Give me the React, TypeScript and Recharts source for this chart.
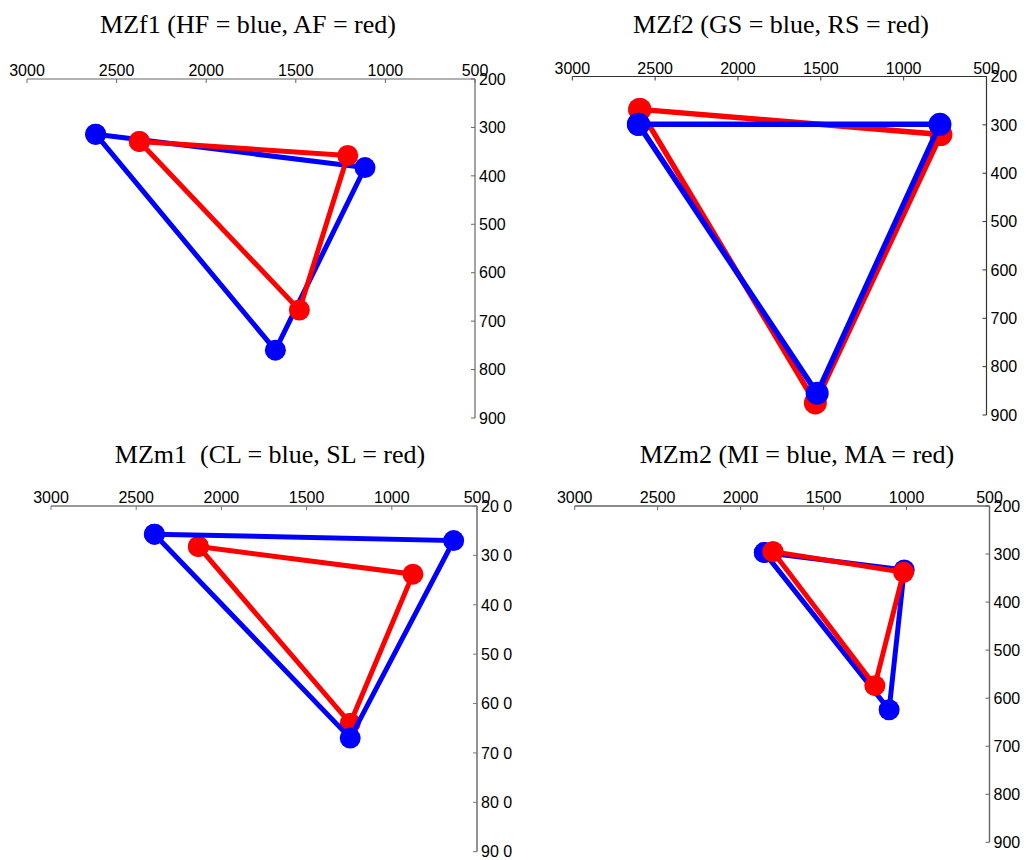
import React from 'react';
import { ScatterChart, Scatter, XAxis, YAxis } from 'recharts';

// Vowel order of each triangle (closed back to the first point)
const vowels = ['i', 'u', 'a'];
const f2Ticks = [3000, 2500, 2000, 1500, 1000, 500];
const f1Ticks = [200, 300, 400, 500, 600, 700, 800, 900];

const titles = [
  'MZf1 (HF = blue, AF = red)',
  'MZf2 (GS = blue, RS = red)',
  'MZm1  (CL = blue, SL = red)',
  'MZm2 (MI = blue, MA = red)',
];

// Panel 1: MZf1
const mzf1BlueF2 = [2617, 1114, 1614];
const mzf1BlueF1 = [314, 383, 760];
const mzf1RedF2 = [2373, 1210, 1480];
const mzf1RedF1 = [329, 358, 677];

// Panel 2: MZf2
const mzf2BlueF2 = [2601, 781, 1522];
const mzf2BlueF1 = [299, 299, 855];
const mzf2RedF2 = [2593, 775, 1533];
const mzf2RedF1 = [268, 320, 875];

// Panel 3: MZm1
const mzm1BlueF2 = [2393, 637, 1244];
const mzm1BlueF1 = [257, 270, 670];
const mzm1RedF2 = [2135, 876, 1244];
const mzm1RedF1 = [282, 338, 640];

// Panel 4: MZm2
const mzm2BlueF2 = [1857, 1014, 1105];
const mzm2BlueF1 = [297, 333, 624];
const mzm2RedF2 = [1805, 1018, 1191];
const mzm2RedF1 = [295, 338, 574];

const BLUE = '#0000ff';
const RED = '#ff0000';

type Pt = { vowel: string; f2: number; f1: number };
const closed = (f2: number[], f1: number[]): Pt[] => {
  const pts = vowels.map((v, i) => ({ vowel: v, f2: f2[i], f1: f1[i] }));
  return [...pts, pts[0]];
};

type Series = { data: Pt[]; color: string };

type Panel = {
  title: string;
  left: number;
  top: number;
  marginLeft: number;
  marginBottom: number;
  xAxisHeight: number;
  yAxisWidth: number;
  axisColor: string;
  axisWidth: number;
  yFormat: (v: number) => string;
  series: Series[]; // in drawing order
  r: number;
  lw: number;
  titleX: number;
};

const plain = (v: number) => String(v);
const spaced = (v: number) => {
  const s = String(v);
  return s.slice(0, 2) + ' ' + s.slice(2);
};

const panels: Panel[] = [
  {
    title: titles[0], left: 0, top: 0, marginLeft: 27, marginBottom: 12,
    xAxisHeight: 79, yAxisWidth: 38, axisColor: '#666', axisWidth: 1.2, yFormat: plain,
    series: [
      { data: closed(mzf1BlueF2, mzf1BlueF1), color: BLUE },
      { data: closed(mzf1RedF2, mzf1RedF1), color: RED },
    ],
    r: 10.5, lw: 5, titleX: 248,
  },
  {
    title: titles[1], left: 513, top: 0, marginLeft: 59.3, marginBottom: 15,
    xAxisHeight: 76.5, yAxisWidth: 39.5, axisColor: '#333', axisWidth: 1.2, yFormat: plain,
    series: [
      { data: closed(mzf2RedF2, mzf2RedF1), color: RED },
      { data: closed(mzf2BlueF2, mzf2BlueF1), color: BLUE },
    ],
    r: 11.5, lw: 5.5, titleX: 268,
  },
  {
    title: titles[2], left: 0, top: 430, marginLeft: 51, marginBottom: 8.3,
    xAxisHeight: 76, yAxisWidth: 36, axisColor: '#777', axisWidth: 1.6, yFormat: spaced,
    series: [
      { data: closed(mzm1RedF2, mzm1RedF1), color: RED },
      { data: closed(mzm1BlueF2, mzm1BlueF1), color: BLUE },
    ],
    r: 10.5, lw: 5, titleX: 270,
  },
  {
    title: titles[3], left: 513, top: 430, marginLeft: 61.7, marginBottom: 17.7,
    xAxisHeight: 76, yAxisWidth: 36.5, axisColor: '#666', axisWidth: 1.4, yFormat: plain,
    series: [
      { data: closed(mzm2BlueF2, mzm2BlueF1), color: BLUE },
      { data: closed(mzm2RedF2, mzm2RedF1), color: RED },
    ],
    r: 10.5, lw: 5, titleX: 284,
  },
];

const TICK_FONT = '"Liberation Sans", Arial, Helvetica, sans-serif';

const makeXTick = (color: string) => (props: any) => {
  const { x, y, payload } = props;
  return (
    <g>
      <line x1={x} y1={y} x2={x} y2={y + 4} stroke={color} strokeWidth={1} />
      <text x={x} y={y - 3} textAnchor="middle" fontFamily={TICK_FONT} fontSize={16} fill="#000">
        {payload.value}
      </text>
    </g>
  );
};

const makeYTick = (color: string, fmt: (v: number) => string) => (props: any) => {
  const { x, y, payload } = props;
  return (
    <g>
      <line x1={x - 4} y1={y} x2={x} y2={y} stroke={color} strokeWidth={1} />
      <text x={x + 4} y={y} dy="0.36em" textAnchor="start" fontFamily={TICK_FONT} fontSize={16} fill="#000" xmlSpace="preserve">
        {fmt(payload.value)}
      </text>
    </g>
  );
};

const makeDot = (color: string, r: number) => (props: any) => {
  const { cx, cy } = props;
  if (cx == null || cy == null) return <g />;
  return <circle cx={cx} cy={cy} r={r} fill={color} stroke="none" />;
};

function PanelChart({ p }: { p: Panel }) {
  return (
    <div style={{ position: 'absolute', left: p.left, top: p.top, width: 513, height: 430 }}>
      <svg width={513} height={430} style={{ position: 'absolute', left: 0, top: 0 }}>
        <text
          x={p.titleX}
          y={33}
          textAnchor="middle"
          fontFamily='"Liberation Serif", "Times New Roman", serif'
          fontSize={26}
          fill="#000"
          xmlSpace="preserve"
        >
          {p.title}
        </text>
      </svg>
      <div style={{ position: 'absolute', left: 0, top: 0 }}>
        <ScatterChart
          width={513}
          height={430}
          margin={{ top: 0, right: 0, bottom: p.marginBottom, left: p.marginLeft }}
        >
          <XAxis
            type="number"
            dataKey="f2"
            orientation="top"
            domain={[500, 3000]}
            reversed
            ticks={f2Ticks}
            interval={0}
            height={p.xAxisHeight}
            tickSize={0}
            tickMargin={0}
            tickLine={false}
            axisLine={{ stroke: p.axisColor, strokeWidth: p.axisWidth }}
            tick={makeXTick(p.axisColor)}
            allowDataOverflow
          />
          <YAxis
            type="number"
            dataKey="f1"
            orientation="right"
            domain={[200, 900]}
            reversed
            ticks={f1Ticks}
            interval={0}
            width={p.yAxisWidth}
            tickSize={0}
            tickMargin={0}
            tickLine={false}
            axisLine={{ stroke: p.axisColor, strokeWidth: p.axisWidth }}
            tick={makeYTick(p.axisColor, p.yFormat)}
            allowDataOverflow
          />
          {p.series.map((s, i) => (
            <Scatter
              key={i}
              data={s.data}
              fill={s.color}
              line={{ stroke: s.color, strokeWidth: p.lw }}
              lineType="joint"
              shape={makeDot(s.color, p.r)}
              isAnimationActive={false}
            />
          ))}
        </ScatterChart>
      </div>
    </div>
  );
}

export default function App() {
  return (
    <div style={{ position: 'absolute', left: 0, top: 0, width: 1026, height: 860, background: '#fff' }}>
      {panels.map((p, i) => (
        <PanelChart key={i} p={p} />
      ))}
    </div>
  );
}
